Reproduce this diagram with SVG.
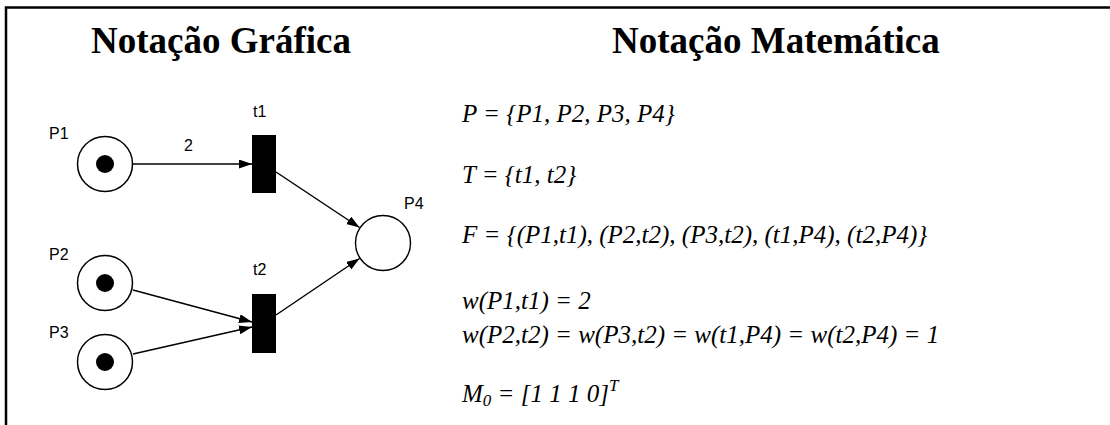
<svg xmlns="http://www.w3.org/2000/svg" width="1110" height="425" viewBox="0 0 1110 425">
<style>
.title{font-family:"Liberation Serif","Times New Roman",serif;font-weight:bold;font-size:37px;fill:#000}
.lbl{font-family:"Liberation Sans",Arial,sans-serif;font-size:16px;fill:#000}
.math{font-family:"Liberation Serif","Times New Roman",serif;font-style:italic;font-size:25px;fill:#000}
.place{fill:#fff;stroke:#000;stroke-width:1.5}
.token{fill:#000}
.trans{fill:#000}
.arc{stroke:#000;stroke-width:1.5;fill:none;marker-end:url(#ah)}
.frame{stroke:#000;stroke-width:2.5;fill:none}
</style>
<defs>
<marker id="ah" markerUnits="userSpaceOnUse" markerWidth="14" markerHeight="10" refX="13" refY="4.5" orient="auto">
<path d="M0,0 L13,4.5 L0,9 z" fill="#000"/>
</marker>
</defs>
<rect width="1110" height="425" fill="#fff"/>
<path class="frame" d="M6,425 L6,7.5 L1110,7.5"/>
<text class="title" x="91" y="53">Notação Gráfica</text>
<text class="title" x="612" y="53">Notação Matemática</text>
<g id="connectors">
<line class="arc" x1="133" y1="164" x2="252" y2="164"/>
<line class="arc" x1="133" y1="290" x2="252" y2="322"/>
<line class="arc" x1="133" y1="354" x2="252" y2="327"/>
<line class="arc" x1="276" y1="172" x2="359.5" y2="227.5"/>
<line class="arc" x1="276" y1="315" x2="359.5" y2="258.5"/>
<text class="lbl" x="184" y="151">2</text>
</g>
<g id="P1">
<circle class="place" cx="105" cy="164" r="27.5"/>
<circle class="token" cx="105" cy="164" r="9"/>
<text class="lbl" x="49" y="139">P1</text>
</g>
<g id="P2">
<circle class="place" cx="105" cy="283" r="27.5"/>
<circle class="token" cx="105" cy="283" r="9"/>
<text class="lbl" x="49" y="260">P2</text>
</g>
<g id="P3">
<circle class="place" cx="105" cy="362" r="27.5"/>
<circle class="token" cx="105" cy="362" r="9"/>
<text class="lbl" x="49" y="338">P3</text>
</g>
<g id="P4">
<circle class="place" cx="383" cy="243" r="27.5"/>
<text class="lbl" x="404" y="209">P4</text>
</g>
<g id="t1">
<rect class="trans" x="252" y="135" width="24" height="58"/>
<text class="lbl" x="253" y="117">t1</text>
</g>
<g id="t2">
<rect class="trans" x="252" y="294" width="24" height="59"/>
<text class="lbl" x="253" y="275">t2</text>
</g>
<g id="math">
<text class="math" x="462" y="122">P = {P1, P2, P3, P4}</text>
<text class="math" x="462" y="183">T = {t1, t2}</text>
<text class="math" x="462" y="243">F = {(P1,t1), (P2,t2), (P3,t2), (t1,P4), (t2,P4)}</text>
<text class="math" x="462" y="309">w(P1,t1) = 2</text>
<text class="math" x="462" y="343">w(P2,t2) = w(P3,t2) = w(t1,P4) = w(t2,P4) = 1</text>
<text class="math" x="462" y="402">M<tspan font-size="17" dy="4">0</tspan><tspan dy="-4"> = [1 1 1 0]</tspan><tspan font-size="17" dy="-11">T</tspan></text>
</g>
</svg>
